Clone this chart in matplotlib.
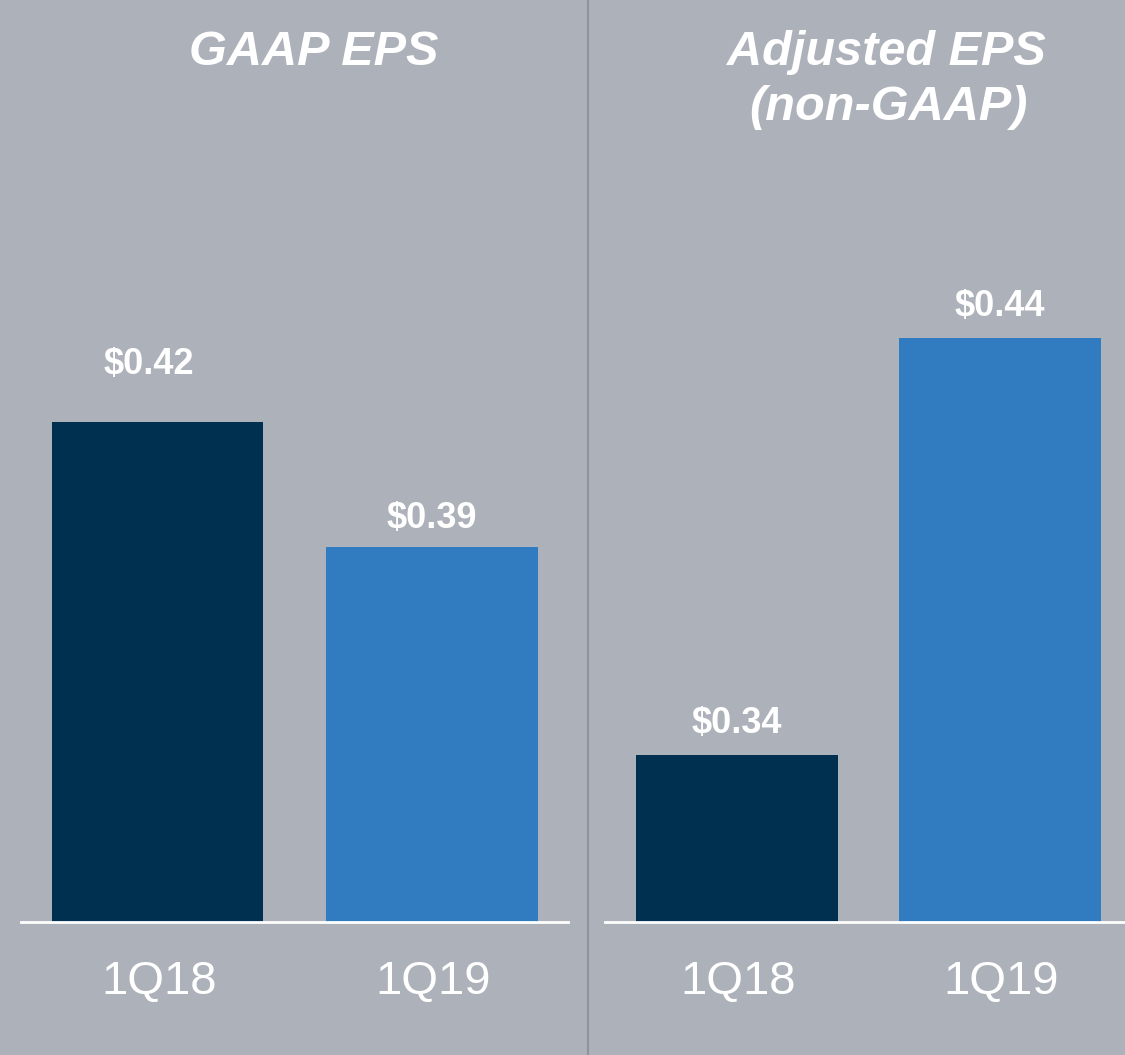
import matplotlib
matplotlib.use("Agg")
import matplotlib.pyplot as plt
from matplotlib.lines import Line2D
from matplotlib.transforms import blended_transform_factory

# ---- data ----
categories = ["1Q18", "1Q19"]
gaap_eps = [0.42, 0.39]
adjusted_eps = [0.34, 0.44]
gaap_labels = ["$0.42", "$0.39"]
adjusted_labels = ["$0.34", "$0.44"]
titles_left = ["GAAP EPS"]
titles_right = ["Adjusted EPS", "(non-GAAP)"]

# ---- style ----
BG = "#ADB1BA"
DARK = "#00304F"
BLUE = "#317CC1"
DIVIDER = "#909398"
FONT = "Liberation Sans"
W, H = 1125, 1055
DPI = 100
Y_BASE = 0.30
PX_PER_UNIT = 4170.0
label_offsets_left = [34.5, 13.7]   # points above bar top
label_offsets_right = [15.8, 15.8]
label_dx_left = [-6.5, 0]           # points

fig = plt.figure(figsize=(W / DPI, H / DPI), dpi=DPI, facecolor=BG)

def px_rect(x0, x1, y_top, y_bot):
    return [x0 / W, 1 - y_bot / H, (x1 - x0) / W, (y_bot - y_top) / H]

base_y_px = 922
y_top_val = Y_BASE + base_y_px / PX_PER_UNIT

ax1 = fig.add_axes(px_rect(21, 568, 0, base_y_px))
ax2 = fig.add_axes(px_rect(605, 1131, 0, base_y_px))

def draw(ax, values, labels, offsets, dxs, xlim):
    ax.set_facecolor("none")
    x = list(range(len(values)))
    ax.bar(x, values, width=0.77, color=[DARK, BLUE], zorder=1)
    ax.set_ylim(Y_BASE, y_top_val)
    ax.set_xlim(*xlim)
    for s in ["top", "left", "right"]:
        ax.spines[s].set_visible(False)
    ax.spines["bottom"].set_color("white")
    ax.spines["bottom"].set_linewidth(2.0)
    ax.spines["bottom"].set_zorder(3)
    ax.set_xticks([])
    ax.set_yticks([])
    for xi, v, lab, off, dx in zip(x, values, labels, offsets, dxs):
        ax.annotate(lab, (xi, v), xytext=(dx, off), textcoords="offset points",
                    ha="center", va="baseline", color="white",
                    fontsize=26, fontweight="bold", family=FONT)
    trans = blended_transform_factory(ax.transData, ax.transAxes)
    for xi, c in zip(x, categories):
        ax.annotate(c, (xi, 0), xycoords=trans, xytext=(1, -51.8),
                    textcoords="offset points", ha="center", va="baseline",
                    color="white", fontsize=34, family=FONT)

draw(ax1, gaap_eps, gaap_labels, label_offsets_left, label_dx_left, (-0.497, 1.495))
draw(ax2, adjusted_eps, adjusted_labels, label_offsets_right, [0, 0], (-0.502, 1.498))

# divider
fig.add_artist(Line2D([588 / W, 588 / W], [0, 1], color=DIVIDER, lw=1.5,
                      transform=fig.transFigure))

# titles
fig.text(314 / W, 1 - 65 / H, titles_left[0], ha="center", va="baseline",
         color="white", fontsize=35, fontweight="bold", style="italic", family=FONT)
fig.text(886 / W, 1 - 65 / H, titles_right[0], ha="center", va="baseline",
         color="white", fontsize=35, fontweight="bold", style="italic", family=FONT)
fig.text(888 / W, 1 - 120 / H, titles_right[1], ha="center", va="baseline",
         color="white", fontsize=35, fontweight="bold", style="italic", family=FONT)

fig.savefig("out.png", dpi=DPI, facecolor=BG)
